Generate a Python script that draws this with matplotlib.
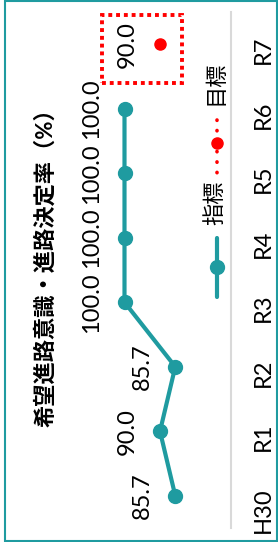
import numpy as np
import matplotlib.pyplot as plt
import matplotlib.transforms as mtransforms
from matplotlib.patches import Rectangle

plt.rcParams['font.family'] = ['Lato', 'Noto Sans CJK JP', 'DejaVu Sans']

categories = ['H30', 'R1', 'R2', 'R3', 'R4', 'R5', 'R6', 'R7']
indicator = [85.7, 90.0, 85.7, 100.0, 100.0, 100.0, 100.0]
target_cat = 'R7'
target_val = 90.0
title = '希望進路意識・進路決定率（%）'

teal = '#1F9BA0'
red = '#FF0000'

W, H = 278, 542
fig = plt.figure(figsize=(W / 100, H / 100), dpi=100)

# chart is drawn rotated: categories run bottom->top, values grow to the left
ax = fig.add_axes([18 / W, 14 / H, (231 - 18) / W, (530 - 14) / H])
ax.patch.set_visible(False)
pos = np.arange(len(categories))
ax.plot(indicator, pos[:len(indicator)], color=teal, lw=3, marker='o', ms=10,
        solid_capstyle='round')
for v, p in zip(indicator, pos):
    ax.annotate(f'{v:.1f}', (v, p), xytext=(-33, 0), textcoords='offset pixels',
                rotation=90, ha='center', va='center', fontsize=17)

tp = categories.index(target_cat)
ax.plot([target_val], [tp], color=red, marker='o', ms=8, ls='none')
ax.annotate(f'{target_val:.1f}', (target_val, tp), xytext=(-33, 0),
            textcoords='offset pixels', rotation=90, ha='center', va='center',
            fontsize=17)

ax.set_xlim(130, 70)
ax.set_ylim(-0.5, len(categories) - 0.5)
ax.set_xticks([])
ax.set_yticks(pos, labels=categories)
ax.yaxis.tick_right()
ax.tick_params(axis='y', length=0, pad=16, labelrotation=90, labelsize=17)
for s in ['left', 'top', 'bottom']:
    ax.spines[s].set_visible(False)
ax.spines['right'].set_color('#D9D9D9')
ax.spines['right'].set_linewidth(1.5)

# red dotted frame around target point and its label (pixel offsets)
fig.canvas.draw()
px, py = ax.transData.transform((target_val, tp))
box_tr = mtransforms.Affine2D().translate(px, py)
ax.add_patch(Rectangle((-58, -39), 80, 68, transform=box_tr, fill=False,
                       ec=red, lw=2.8, ls=(0, (1, 1)), clip_on=False))

# overlay in pixel coordinates for title, legend and outer frame
ov = fig.add_axes([0, 0, 1, 1], zorder=2)
ov.set_xlim(0, W)
ov.set_ylim(H, 0)
ov.axis('off')
ov.add_patch(Rectangle((5, 1), 272, 540, fill=False, ec=teal, lw=1.5))
ov.text(45, 262, title, rotation=90, ha='center', va='center',
        fontsize=16, fontweight='bold')

ov.plot([217, 217], [238, 297], color=teal, lw=3, solid_capstyle='round')
ov.plot([217], [267], color=teal, marker='o', ms=10)
ov.text(215, 203, '指標', rotation=90, ha='center', va='center', fontsize=16)
ov.plot([217, 217], [120, 177], color=red, lw=2.6, ls=(0, (0.1, 2.8)),
        dash_capstyle='round')
ov.plot([217], [143], color=red, marker='o', ms=8)
ov.text(215, 83, '目標', rotation=90, ha='center', va='center', fontsize=16)

fig.savefig('out.png', dpi=100)
